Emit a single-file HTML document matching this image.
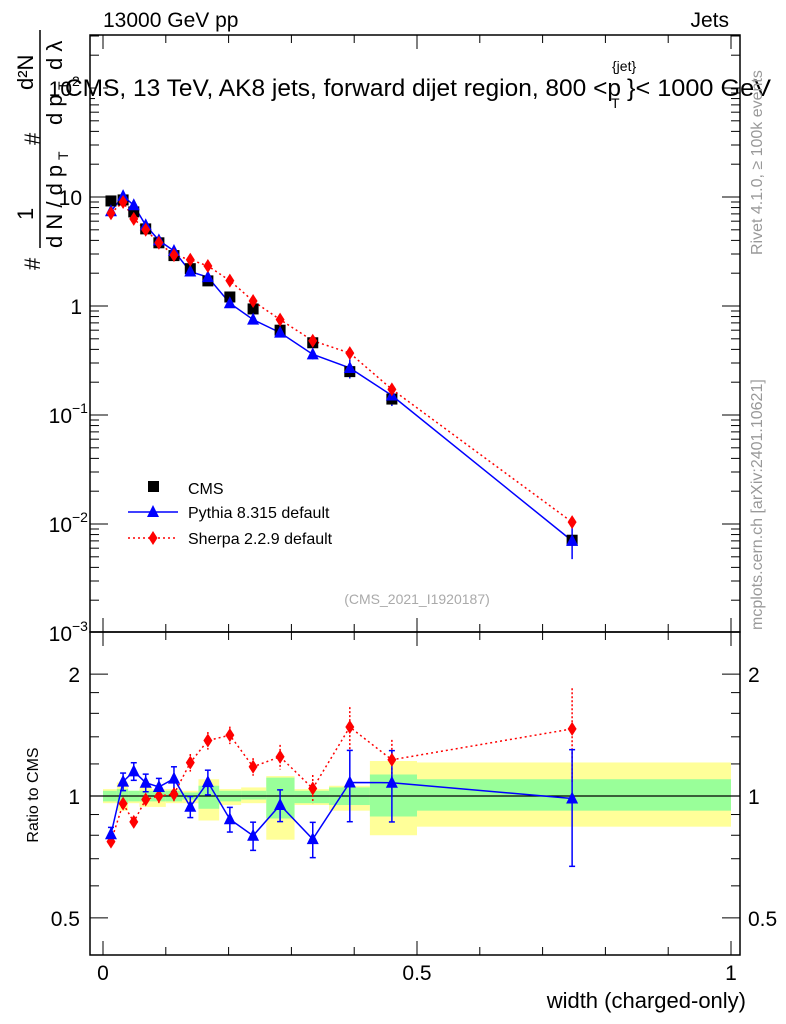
<!DOCTYPE html>
<html><head><meta charset="utf-8"><style>
body{margin:0;background:#fff;}
svg{display:block;font-family:"Liberation Sans",sans-serif;}
</style></head><body>
<svg id="c" width="786" height="1024" xmlns="http://www.w3.org/2000/svg"></svg>
<script>
const xs=[0.0127,0.032,0.049,0.068,0.089,0.113,0.139,0.167,0.202,0.239,0.282,0.334,0.393,0.46,0.747];
const edges=[0,0.022,0.04,0.058,0.078,0.1,0.126,0.152,0.185,0.22,0.26,0.305,0.36,0.425,0.5,1.0];
const cmsVals=[9.2,9.4,7.3,5.1,3.8,2.9,2.2,1.7,1.21,0.94,0.60,0.46,0.25,0.14,0.0071];
const pythiaVals=[7.4,10.2,8.4,5.5,4.0,3.2,2.07,1.84,1.06,0.75,0.57,0.36,0.27,0.151,0.0070];
const sherpaVals=[7.1,9.0,6.3,5.0,3.8,2.93,2.66,2.33,1.71,1.11,0.75,0.48,0.37,0.172,0.0104];
const pythiaErr=[0.04,0.05,0.05,0.05,0.05,0.07,0.06,0.07,0.07,0.08,0.09,0.10,0.2,0.2,0.32];
const sherpaErr=[0.03,0.03,0.03,0.03,0.04,0.04,0.05,0.05,0.05,0.05,0.07,0.08,0.12,0.12,0.26];
const yellowUp=[1.04,1.08,1.03,1.05,1.04,1.04,1.03,1.10,1.04,1.05,1.12,1.04,1.06,1.22,1.21];
const yellowDn=[0.96,0.92,0.96,0.94,0.94,0.96,0.96,0.87,0.95,0.96,0.78,0.95,0.92,0.80,0.84];
const greenUp=[1.03,1.04,1.03,1.03,1.03,1.03,1.02,1.06,1.03,1.03,1.11,1.03,1.05,1.13,1.10];
const greenDn=[0.97,0.96,0.97,0.97,0.97,0.97,0.98,0.93,0.97,0.98,0.88,0.96,0.95,0.89,0.92];

const svg=document.getElementById('c');
const NS='http://www.w3.org/2000/svg';
function el(tag,attrs,parent){const e=document.createElementNS(NS,tag);for(const k in attrs)e.setAttribute(k,attrs[k]);(parent||svg).appendChild(e);return e;}
const L=90,R=740,T=35,MB=632,RB=955;
const X=v=>103+v*628;
const Ym=v=>306-109*Math.log10(v);
const Yr=v=>796-405*Math.log10(v);

for(let i=0;i<xs.length;i++){
  const r=el('rect',{x:X(edges[i]),y:Yr(yellowUp[i]),width:X(edges[i+1])-X(edges[i]),height:Yr(yellowDn[i])-Yr(yellowUp[i]),fill:'#ffff99'});
  
  
}
for(let i=0;i<xs.length;i++){
  const r=el('rect',{x:X(edges[i]),y:Yr(greenUp[i]),width:X(edges[i+1])-X(edges[i]),height:Yr(greenDn[i])-Yr(greenUp[i]),fill:'#99ff99'});
  
  
}
el('line',{x1:L,x2:R,y1:Yr(1),y2:Yr(1),stroke:'#000','stroke-width':1.2});

el('rect',{x:L,y:T,width:R-L,height:MB-T,fill:'none',stroke:'#000','stroke-width':1.5});
el('rect',{x:L,y:MB,width:R-L,height:RB-MB,fill:'none',stroke:'#000','stroke-width':1.5});

for(let i=0;i<=10;i++){const v=i/10,x=X(v),maj=(i%5===0);const h=maj?14:8;
  for(const [y0,d] of [[T,1],[MB,-1],[MB,1],[RB,-1]]) el('line',{x1:x,x2:x,y1:y0,y2:y0+d*h,stroke:'#000'});
}
[[0,'0'],[0.5,'0.5'],[1,'1']].forEach(([v,s])=>{const t=el('text',{x:X(v),y:980,'font-size':21,'text-anchor':'middle'});t.textContent=s;
});

for(let e=-3;e<=2;e++){for(let m=1;m<10;m++){const v=m*Math.pow(10,e);const y=Ym(v);if(y<T||y>MB)continue;const h=m===1?18:9;
  el('line',{x1:L,x2:L+h,y1:y,y2:y,stroke:'#000'});el('line',{x1:R,x2:R-h,y1:y,y2:y,stroke:'#000'});}}
const ylabs=[[100,'10','2'],[10,'10',''],[1,'1',''],[0.1,'10','−1'],[0.01,'10','−2'],[0.001,'10','−3']];
ylabs.forEach(([v,b,s])=>{const y=Ym(v);const t=el('text',{x:s?72:82,y:y+8,'font-size':21,'text-anchor':'end'});t.textContent=b;

if(s){const u=el('text',{x:72,y:y-2,'font-size':14});u.textContent=s;}});

[0.5,0.6,0.7,0.8,0.9,1,1.2,1.4,1.6,1.8,2].forEach(v=>{const y=Yr(v);const h=(v===0.5||v===1||v===2)?18:9;
  el('line',{x1:L,x2:L+h,y1:y,y2:y,stroke:'#000'});el('line',{x1:R,x2:R-h,y1:y,y2:y,stroke:'#000'});});
[[0.5,'0.5'],[1,'1'],[2,'2']].forEach(([v,s])=>{const t=el('text',{x:80,y:Yr(v)+8,'font-size':21,'text-anchor':'end'});t.textContent=s;

const t2=el('text',{x:748,y:Yr(v)+8,'font-size':21});t2.textContent=s;});

function poly(vals,fn,col,dash,name){const pts=xs.map((x,i)=>X(x)+','+fn(vals[i])).join(' ');
  const p=el('polyline',{points:pts,fill:'none',stroke:col,'stroke-width':1.5,'stroke-dasharray':dash||'none'});
  }
function tri(x,y,col){return el('polygon',{points:`${x},${y-7} ${x-6},${y+5} ${x+6},${y+5}`,fill:col});}
function dia(x,y,col){return el('polygon',{points:`${x},${y-7} ${x-4.5},${y} ${x},${y+7} ${x+4.5},${y}`,fill:col});}

poly(sherpaVals,Ym,'#f00','2,3','sherpa-line');
poly(pythiaVals,Ym,'#00f','','pythia-line');
xs.forEach((x,i)=>{
  const yc=Ym(cmsVals[i]);
  el('line',{x1:X(x),x2:X(x),y1:Ym(pythiaVals[i]*(1+pythiaErr[i])),y2:Ym(pythiaVals[i]*(1-pythiaErr[i])),stroke:'#00f','stroke-width':1.5});
  const s=el('rect',{x:X(x)-5.5,y:yc-5.5,width:11,height:11,fill:'#000'});
  
  const t=tri(X(x),Ym(pythiaVals[i]),'#00f');
  
  const d=dia(X(x),Ym(sherpaVals[i]),'#f00');
  
});

const pr=xs.map((x,i)=>pythiaVals[i]/cmsVals[i]);
const sr=xs.map((x,i)=>sherpaVals[i]/cmsVals[i]);
poly(sr,(v)=>Yr(v),'#f00','2,3','sherpa-ratio-line');
poly(pr,(v)=>Yr(v),'#00f','','pythia-ratio-line');
xs.forEach((x,i)=>{
  const xx=X(x);
  el('line',{x1:xx,x2:xx,y1:Yr(sr[i]*(1+sherpaErr[i])),y2:Yr(sr[i]*(1-sherpaErr[i])),stroke:'#f00','stroke-width':1.5,'stroke-dasharray':'2,2'});
  el('line',{x1:xx,x2:xx,y1:Yr(pr[i]*(1+pythiaErr[i])),y2:Yr(pr[i]*(1-pythiaErr[i])),stroke:'#00f','stroke-width':1.5});
  [pr[i]*(1+pythiaErr[i]),pr[i]*(1-pythiaErr[i])].forEach(v=>el('line',{x1:xx-3,x2:xx+3,y1:Yr(v),y2:Yr(v),stroke:'#00f','stroke-width':1.5}));
  const d=dia(xx,Yr(sr[i]),'#f00');
  
  const t=tri(xx,Yr(pr[i]),'#00f');
  
});
</script>
<svg width="786" height="1024" style="position:absolute;left:0;top:0" xmlns="http://www.w3.org/2000/svg" font-family="Liberation Sans, sans-serif">
<rect x="95" y="72" width="8" height="30" fill="#fff"/>
<g>
<text x="65" y="96" font-size="24" textLength="556" lengthAdjust="spacingAndGlyphs">CMS, 13 TeV, AK8 jets, forward dijet region, 800 &lt;p</text>
<text x="612" y="71" font-size="14">{jet}</text>
<text x="611" y="108" font-size="14">T</text>
<text x="627" y="96" font-size="24" textLength="144" lengthAdjust="spacingAndGlyphs">}&lt; 1000 GeV</text>
</g>
<text x="103" y="27" font-size="21">13000 GeV pp</text>
<text x="729" y="27" font-size="21" text-anchor="end">Jets</text>
<g transform="translate(40,270) rotate(-90)">
<text x="0" y="0" font-size="22">#</text>
<text x="50" y="-7" font-size="22">1</text>
<line x1="22" y1="0" x2="240" y2="0" stroke="#000" stroke-width="1.5"/>
<text x="22" y="22" font-size="22">d N / d p</text>
<text x="110" y="28" font-size="14">T</text>
<text x="125" y="0" font-size="22">#</text>
<text x="145" y="22" font-size="22">d p</text>
<text x="180" y="28" font-size="14">T</text>
<text x="200" y="22" font-size="22">d λ</text>
<text x="180" y="-7" font-size="22">d²N</text>
</g>
<text transform="translate(762,255) rotate(-90)" font-size="16" fill="#999">Rivet 4.1.0, ≥ 100k events</text>
<text transform="translate(762,630) rotate(-90)" font-size="16" fill="#999">mcplots.cern.ch [arXiv:2401.10621]</text>
<text x="417" y="604" font-size="14" fill="#aaa" text-anchor="middle">(CMS_2021_I1920187)</text>
<rect x="148" y="481" width="11" height="11" fill="#000"/>
<text x="188" y="494" font-size="16">CMS</text>
<line x1="128" y1="512" x2="178" y2="512" stroke="#00f" stroke-width="1.5"/>
<polygon points="153,505 147,517 159,517" fill="#00f"/>
<text x="188" y="518" font-size="16">Pythia 8.315 default</text>
<line x1="128" y1="538" x2="178" y2="538" stroke="#f00" stroke-width="1.5" stroke-dasharray="2,3"/>
<polygon points="153,531 148.5,538 153,545 157.5,538" fill="#f00"/>
<text x="188" y="544" font-size="16">Sherpa 2.2.9 default</text>
<text transform="translate(38,795) rotate(-90)" font-size="16" text-anchor="middle">Ratio to CMS</text>
<text x="746" y="1008" font-size="22" text-anchor="end">width (charged-only)</text>
</svg>
</body></html>
